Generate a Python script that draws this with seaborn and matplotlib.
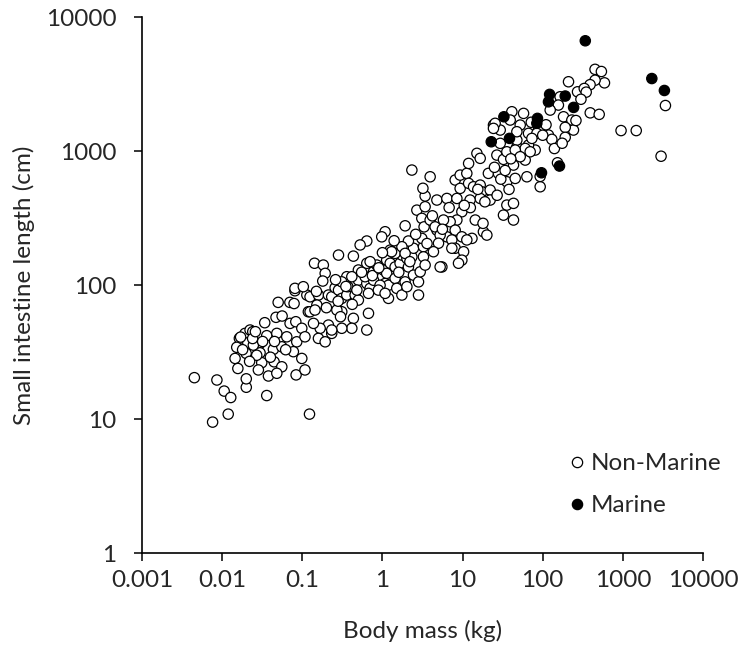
import pandas as pd
import seaborn as sns
import matplotlib.pyplot as plt
from matplotlib.ticker import FixedLocator, NullLocator

# body mass (kg) and small intestine length (cm)
nonmarine_mass = [
    0.0045, 0.0086, 0.0106, 0.0128, 0.0119, 0.0076, 0.020, 0.020, 0.036, 0.050,
    0.070, 0.079, 0.047, 0.056, 0.034, 0.0164, 0.0152, 0.0145, 0.0157, 0.0193,
    0.0223, 0.0209, 0.0199, 0.0241, 0.036, 0.0297, 0.0297, 0.0245, 0.0312, 0.0283,
    0.0378, 0.0436, 0.0445, 0.0481, 0.0555, 0.0555, 0.0481, 0.064, 0.0704, 0.083,
    0.0853, 0.0774, 0.0986, 0.0986, 0.108, 0.0837, 0.108, 0.119, 0.114, 0.081,
    0.123,
    3.41, 2.69, 3.41, 3.1, 3.31, 1.92, 1.08, 0.98, 0.638, 0.527,
    0.283, 0.434, 0.142, 0.183, 0.193, 0.180, 0.081, 0.103, 0.125, 0.159,
    0.152, 0.212, 0.233, 0.257, 0.283, 0.311, 0.359, 0.359, 0.311, 0.37,
    0.501, 0.456, 0.501, 0.638, 0.702, 0.67, 0.773, 0.608, 0.638, 0.773,
    0.85, 0.702, 0.501, 0.415, 1.03, 1.13, 1.08, 1.19, 0.935, 0.89,
    1.19, 1.08, 1.44, 1.51, 1.92, 1.75, 2.02, 1.13, 1.25, 1.44,
    1.66, 1.75, 2.02, 2.33, 2.11, 2.44, 2.82, 2.96, 2.82, 2.69,
    2.44, 3.25, 3.1, 2.11, 1.51, 1.44, 1.25, 1.75, 1.92, 3.25,
    3.41, 0.67, 0.638, 0.434, 0.415, 0.311, 0.27, 0.3, 0.311, 0.233,
    0.212, 0.167, 0.138, 0.125, 0.144, 0.159, 0.193, 0.233,
    2.33, 3.94, 3.2, 4.78, 6.37, 8.49, 8.09, 9.33, 11.3, 9.33,
    11.9, 13.7, 16.6, 17.4, 22.1, 22.1, 16.6, 12.4, 11.9, 15.1,
    16.6, 21, 28, 35.7, 45.4, 63.5, 26.8, 32.4, 43.2, 52.4,
    60.5, 80.6, 47.6, 66.5, 24.3, 29.5, 52.4, 66.5, 35.7, 35.7,
    43.2, 32.4, 43.2, 47.6, 60.5, 14.4, 18.2, 20.1, 13.1, 9.8,
    8.49, 7.0, 8.09, 5.78, 4.78, 3.94, 6.37, 7.35, 9.8, 11.3,
    8.09, 10.3, 9.8, 5.52, 4.55, 5.25, 7.35, 5.01, 4.33, 8.9,
    5.25,
    272, 210, 165, 157, 124, 182, 231, 242, 191, 191,
    118, 130, 88.5, 84.5, 73.3, 57.7, 41.2, 39.3, 47.6, 25.5,
    24.3, 29.5, 45.4, 69.8, 52.4, 93, 93, 153,
    3400, 950, 1470, 3000, 450, 540, 590, 450, 390, 330,
    349, 392, 507,
    # denser parts of the cloud
    0.018, 0.024, 0.027, 0.032, 0.040, 0.022, 0.026, 0.017, 0.062, 0.045,
    0.15, 0.20, 0.26, 0.35, 0.42, 0.55, 0.75, 0.90, 0.28, 0.48,
    1.3, 1.6, 2.2, 2.6, 3.6, 4.2, 5.6, 6.8, 1.0, 1.4,
    12.5, 15.5, 19, 25, 30, 38, 18, 27, 34, 10.5,
    110, 140, 175, 260, 300, 72, 100, 40,
]
nonmarine_length = [
    20.4, 19.6, 16.2, 14.5, 10.9, 9.5, 17.3, 20.0, 15.0, 74.5,
    74.5, 73, 57.6, 58.9, 52.5, 40.1, 34.4, 28.4, 23.9, 43.7,
    46.3, 37.2, 31, 45, 42, 36.8, 31.3, 35.7, 26.4, 23.3,
    21, 33.2, 26.8, 43.7, 34.7, 24.6, 22, 41.2, 51.9, 53.4,
    37.8, 31.9, 28.4, 47.7, 41.2, 21.4, 23.3, 63.4, 84.5, 91,
    10.9,
    464, 364, 386, 316, 273, 278, 251, 230, 214, 200,
    168, 165, 146, 141.5, 122.7, 107.5, 94.8, 97.5, 82, 84.5,
    71.1, 84.5, 82, 95.8, 92, 79.8, 84.5, 115.8, 106, 97.5,
    109, 84.5, 77.5, 103, 94.8, 87, 109, 115.8, 145.8, 126,
    141.5, 150, 130, 115.8, 130, 122.7, 103, 100, 100, 92,
    79.8, 87, 112.6, 94.8, 106, 84.5, 97.5, 154, 146, 137,
    146, 168, 158.5, 163, 137, 119, 106, 126, 84.5, 211,
    189, 194, 224, 214, 194, 173, 183, 194, 173, 163,
    141.5, 61.7, 46.3, 56.6, 47.7, 63.4, 65.3, 58.2, 47.7, 43.7,
    50.4, 47.7, 51.9, 63.4, 65.3, 40.1, 37.8, 46.3,
    725, 646, 530, 433, 445, 445, 611, 665, 685, 529,
    577, 544, 560, 499, 514, 433, 445, 433, 813, 967,
    887, 685, 685, 593, 628, 646, 938, 871, 790, 967,
    861, 1023, 1082, 1114, 1572, 1443, 1572, 1363, 993, 397,
    409, 334, 307, 1214, 1052, 307, 251, 237, 224, 354,
    307, 298, 258, 307, 258, 307, 230, 218, 230, 218,
    189, 178, 154, 137, 273, 237, 189, 206, 178, 146,
    137,
    2786, 3311, 2557, 2218, 2034, 1813, 1714, 1443, 1511, 1273,
    1324, 1230, 1443, 1363, 1250, 1922, 1977, 1714, 1402, 1620,
    1485, 1148, 1023, 993, 912, 544, 650, 822,
    2200, 1430, 1430, 920, 4100, 3950, 3250, 3400, 3150, 2950,
    2770, 1940, 1890,
    # denser parts of the cloud
    33, 40, 30, 38, 29, 27, 45, 41, 33, 38,
    90, 68, 110, 98, 72, 125, 118, 135, 76, 92,
    178, 125, 150, 240, 205, 330, 262, 380, 175, 215,
    380, 520, 420, 760, 620, 520, 290, 470, 720, 395,
    1580, 1050, 1150, 1700, 2450, 1650, 1320, 880,
]
marine_mass = [340, 2300, 3300, 122, 118, 191, 243, 32.8, 86, 84.5, 38.5, 22.8, 162, 96.6]
marine_length = [6700, 3500, 2850, 2665, 2345, 2590, 2130, 1813, 1764, 1620, 1250, 1180, 777, 692]

x_ticks = [0.001, 0.01, 0.1, 1, 10, 100, 1000, 10000]
x_labels = ["0.001", "0.01", "0.1", "1", "10", "100", "1000", "10000"]
y_ticks = [1, 10, 100, 1000, 10000]
y_labels = ["1", "10", "100", "1000", "10000"]

df = pd.DataFrame({
    "mass": nonmarine_mass + marine_mass,
    "length": nonmarine_length + marine_length,
    "group": ["Non-Marine"] * len(nonmarine_mass) + ["Marine"] * len(marine_mass),
})

sns.set_style("ticks")
plt.rcParams["font.family"] = ["Lato", "DejaVu Sans"]

fig = plt.figure(figsize=(7.42, 6.48), dpi=100)
ax = fig.add_axes([0.1914, 0.1466, 0.756, 0.8264])

sns.scatterplot(data=df, x="mass", y="length", hue="group",
                palette={"Non-Marine": "white", "Marine": "black"},
                edgecolor="black", linewidth=0.9, s=55, ax=ax)

ax.set_xscale("log")
ax.set_yscale("log")
ax.set_xlim(0.001, 10000)
ax.set_ylim(1, 10000)
ax.xaxis.set_major_locator(FixedLocator(x_ticks))
ax.yaxis.set_major_locator(FixedLocator(y_ticks))
ax.xaxis.set_minor_locator(NullLocator())
ax.yaxis.set_minor_locator(NullLocator())
ax.set_xticklabels(x_labels)
ax.set_yticklabels(y_labels)
ax.tick_params(direction="out", length=5.5, width=1.1, labelsize=17.5, color="black")
ax.tick_params(axis="x", pad=7)
ax.tick_params(axis="y", pad=13)
sns.despine(ax=ax)
for sp in ["left", "bottom"]:
    ax.spines[sp].set_linewidth(1.2)
    ax.spines[sp].set_color("black")

ax.set_xlabel("Body mass (kg)", fontsize=17.5)
ax.set_ylabel("Small intestine length (cm)", fontsize=17.5)
ax.xaxis.set_label_coords(0.5, -0.125)
ax.yaxis.set_label_coords(-0.19, 0.5)

leg = ax.legend(loc="upper left", bbox_to_anchor=(0.753, 0.186), frameon=False,
                fontsize=17.5, handletextpad=0.1, borderpad=0, borderaxespad=0,
                labelspacing=0.85, handlelength=1.0, markerscale=1.0)

fig.savefig("out.png", dpi=100)
